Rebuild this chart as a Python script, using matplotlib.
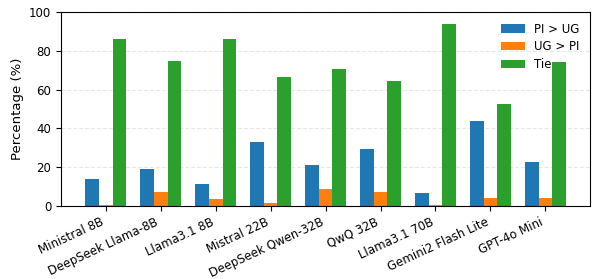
import numpy as np
import matplotlib
matplotlib.use("Agg")
import matplotlib.pyplot as plt

models = ["Ministral 8B", "DeepSeek Llama-8B", "Llama3.1 8B", "Mistral 22B",
          "DeepSeek Qwen-32B", "QwQ 32B", "Llama3.1 70B", "Gemini2 Flash Lite",
          "GPT-4o Mini"]
pi_gt_ug = [13.8, 18.9, 11.2, 32.8, 21.0, 29.2, 6.5, 43.7, 22.5]
ug_gt_pi = [0.4, 7.1, 3.5, 1.4, 8.6, 7.1, 0.3, 4.0, 4.0]
tie = [85.9, 74.6, 85.9, 66.3, 70.5, 64.3, 93.7, 52.4, 74.1]

x = np.arange(len(models))
w = 0.25

fig, ax = plt.subplots(figsize=(5.93, 2.79), dpi=100)
ax.bar(x - w, pi_gt_ug, w, label="PI > UG", color="#1f77b4")
ax.bar(x, ug_gt_pi, w, label="UG > PI", color="#ff7f0e")
ax.bar(x + w, tie, w, label="Tie", color="#2ca02c")

ax.set_ylim(0, 100)
ax.set_ylabel("Percentage (%)", fontsize=9.5)
ax.set_xticks(x)
ax.set_xticklabels(models, rotation=25, ha="right", fontsize=8.5)
ax.tick_params(axis="y", labelsize=8.5)
ax.yaxis.grid(True, linestyle="--", alpha=0.3)
ax.set_axisbelow(True)
ax.legend(frameon=False, loc="upper right", fontsize=8.5, labelspacing=0.4)

fig.subplots_adjust(left=0.103, right=0.995, top=0.957, bottom=0.262)
fig.savefig("out.png")
